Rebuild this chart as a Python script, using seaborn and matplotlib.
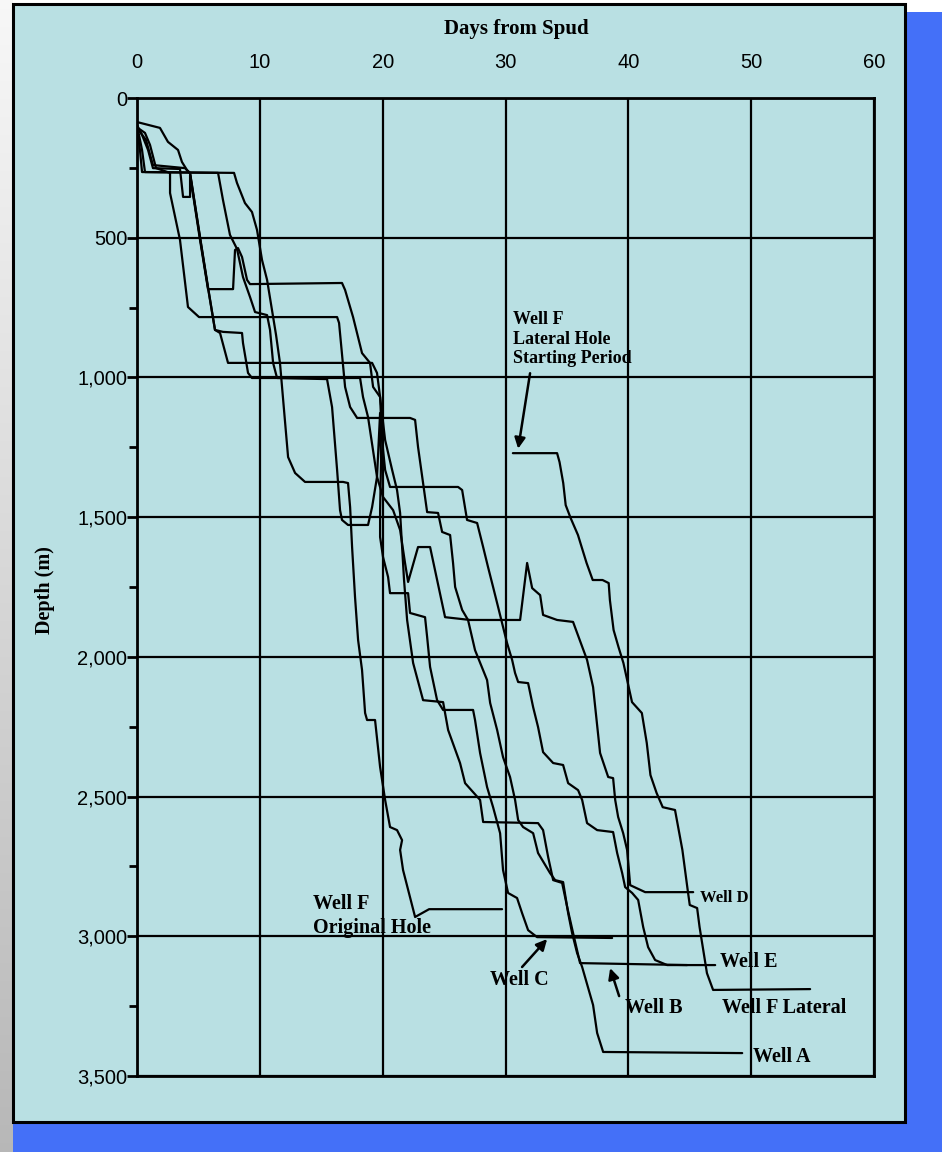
import numpy as np
import pandas as pd
import matplotlib
matplotlib.use("Agg")
import matplotlib.pyplot as plt
from matplotlib.patches import Rectangle
from matplotlib.ticker import FuncFormatter, MultipleLocator
import seaborn as sns

sns.set_style("white")
plt.rcParams["font.family"] = ["Liberation Sans", "DejaVu Sans"]
plt.rcParams["text.color"] = "black"
plt.rcParams["xtick.color"] = "black"
plt.rcParams["ytick.color"] = "black"

# ---------------- data (days from spud, depth m) ----------------
wells = ["Well A", "Well B", "Well C", "Well D", "Well E", "Well F Original", "Well F Lateral"]

well_a_days = [0, 0.65, 1.06, 1.55, 2.69, 2.69, 3.5, 4.15, 5.05, 16.29, 16.45, 16.94, 17.35, 17.92,
               22.23, 22.64, 22.88, 23.29, 23.62, 24.51, 24.84, 25.49, 25.73, 25.9, 26.47, 26.95,
               27.52, 28.5, 28.75, 29.32, 29.8, 30.37, 30.78, 31.03, 31.43, 32.25, 32.65, 33.63,
               34.04, 34.69, 35.1, 35.42, 35.83, 36.24, 37.13, 37.46, 37.95, 49.27]
well_a_depth = [105, 125, 168, 251, 268, 340, 508, 748, 784, 784, 805, 1034, 1106, 1145,
                1145, 1152, 1249, 1378, 1482, 1485, 1553, 1564, 1664, 1750, 1832, 1868,
                1976, 2083, 2165, 2262, 2359, 2430, 2512, 2584, 2609, 2631, 2702, 2774,
                2799, 2806, 2917, 2988, 3060, 3110, 3246, 3346, 3414, 3418]

well_b_days = [0, 0.73, 1.3, 3.91, 4.32, 5.13, 5.78, 6.35, 6.76, 7.41, 19.14, 19.54, 19.79, 20.2,
               20.77, 21.17, 21.42, 21.74, 21.99, 22.48, 23.29, 24.92, 25.33, 26.3, 26.71, 27.93,
               28.18, 32.65, 33.06, 33.47, 33.88, 34.61, 35.02, 35.5, 36.07, 44.79]
well_b_depth = [107, 150, 240, 251, 270, 500, 680, 830, 841, 948, 948, 984, 1070, 1224,
                1331, 1403, 1485, 1725, 1868, 2022, 2155, 2162, 2262, 2380, 2452, 2512,
                2591, 2595, 2620, 2716, 2799, 2809, 2895, 2988, 3096, 3103]

well_c_days = [0, 0.41, 0.65, 6.6, 7.0, 7.57, 8.14, 8.63, 9.2, 9.61, 10.59, 10.83, 11.08, 11.4,
               15.47, 15.88, 16.29, 16.53, 16.69, 17.18, 18.81, 19.14, 19.54, 19.79, 19.87, 19.79,
               19.79, 20.03, 20.44, 20.6, 22.07, 22.23, 23.45, 23.62, 23.86, 24.43, 24.92, 27.36,
               27.52, 27.93, 28.5, 28.99, 29.56, 29.8, 30.21, 30.94, 31.35, 31.84, 32.57, 38.68]
well_c_depth = [97, 186, 265, 268, 365, 490, 540, 641, 712, 766, 777, 830, 948, 1002,
                1006, 1106, 1331, 1475, 1510, 1528, 1528, 1464, 1356, 1127, 1296, 1475,
                1571, 1643, 1714, 1772, 1772, 1843, 1858, 1929, 2036, 2155, 2190, 2190,
                2226, 2344, 2466, 2538, 2631, 2763, 2845, 2863, 2917, 2978, 3003, 3006]

well_d_days = [0, 1.87, 2.52, 3.34, 3.66, 4.07, 4.32, 5.13, 5.78, 6.35, 7.0, 8.55, 8.63, 9.04,
               9.36, 18.16, 18.4, 18.81, 19.54, 20.03, 20.85, 21.42, 21.82, 22.07, 22.88, 23.86,
               25.08, 27.12, 31.19, 31.76, 32.17, 32.82, 33.06, 34.2, 35.5, 36.64, 37.13, 37.7,
               38.36, 38.76, 38.93, 39.17, 39.58, 39.9, 40.15, 41.37, 45.28]
well_d_depth = [86, 107, 157, 186, 229, 258, 268, 497, 676, 830, 837, 841, 877, 984,
                1002, 1002, 1070, 1142, 1356, 1428, 1475, 1546, 1664, 1732, 1607, 1607,
                1858, 1868, 1868, 1664, 1754, 1779, 1850, 1868, 1875, 2011, 2108, 2344,
                2430, 2434, 2512, 2573, 2631, 2691, 2817, 2842, 2842]

well_e_days = [0, 0.41, 0.9, 1.3, 3.5, 3.75, 4.32, 4.32, 5.13, 5.78, 7.82, 7.98, 8.22, 8.55,
               8.96, 9.2, 16.69, 16.94, 17.59, 18.32, 18.97, 19.22, 19.79, 19.95, 20.2, 20.6,
               26.14, 26.47, 26.87, 27.69, 28.18, 28.58, 28.99, 29.4, 29.8, 30.13, 30.54, 30.78,
               31.03, 31.84, 32.25, 32.65, 33.06, 33.88, 34.69, 35.1, 35.91, 36.24, 36.64, 37.46,
               38.76, 39.09, 39.5, 39.74, 40.31, 40.8, 41.21, 41.61, 42.18, 43.16, 47.07]
well_e_depth = [97, 132, 186, 251, 254, 354, 354, 276, 508, 684, 684, 544, 537, 569,
                651, 666, 662, 687, 784, 913, 948, 1034, 1070, 1224, 1331, 1392,
                1392, 1403, 1510, 1521, 1607, 1679, 1750, 1822, 1893, 1951, 2011, 2058,
                2090, 2094, 2180, 2251, 2341, 2380, 2387, 2452, 2477, 2512, 2595, 2620,
                2627, 2702, 2774, 2824, 2845, 2870, 2967, 3039, 3085, 3103, 3103]

well_f_orig_days = [0, 0.24, 0.41, 7.9, 8.14, 8.79, 9.36, 9.77, 10.18, 10.59, 10.99, 11.32, 11.64,
                    11.97, 12.3, 12.87, 13.68, 16.78, 17.18, 17.35, 17.51, 17.75, 18.0, 18.32, 18.57,
                    18.73, 19.38, 19.79, 20.2, 20.6, 21.17, 21.58, 21.42, 21.66, 22.64, 23.78, 29.72]
well_f_orig_depth = [104, 186, 265, 268, 304, 376, 408, 472, 580, 651, 759, 848, 948,
                     1117, 1285, 1342, 1374, 1374, 1378, 1464, 1607, 1786, 1940, 2047, 2201,
                     2226, 2226, 2394, 2512, 2609, 2620, 2656, 2691, 2763, 2931, 2903, 2903]

well_f_lat_days = [30.6, 34.2, 34.4, 34.7, 34.9, 35.3, 35.9, 36.2, 36.6, 37.1, 37.9, 38.4, 38.5,
                   38.8, 39.2, 39.6, 40.3, 41.1, 41.5, 41.8, 42.3, 42.8, 43.8, 44.4, 44.8, 45.0,
                   45.6, 45.8, 46.4, 46.9, 54.8]
well_f_lat_depth = [1271, 1271, 1303, 1378, 1457, 1503, 1564, 1607, 1664, 1725, 1725, 1736, 1797,
                    1904, 1965, 2022, 2162, 2201, 2308, 2423, 2487, 2538, 2548, 2691, 2824, 2888,
                    2899, 2967, 3132, 3192, 3189]

x_ticks = [0, 10, 20, 30, 40, 50, 60]
y_ticks = [0, 500, 1000, 1500, 2000, 2500, 3000, 3500]

series = [
    ("Well A", well_a_days, well_a_depth),
    ("Well B", well_b_days, well_b_depth),
    ("Well C", well_c_days, well_c_depth),
    ("Well D", well_d_days, well_d_depth),
    ("Well E", well_e_days, well_e_depth),
    ("Well F Original", well_f_orig_days, well_f_orig_depth),
    ("Well F Lateral", well_f_lat_days, well_f_lat_depth),
]
df = pd.concat([pd.DataFrame({"Well": n, "Days": d, "Depth": z}) for n, d, z in series],
               ignore_index=True)

# ---------------- figure / frame ----------------
W, H = 942, 1152
CYAN = "#B9E0E3"
BLUE = "#4470F8"
fig = plt.figure(figsize=(W / 100, H / 100), dpi=100, facecolor="white")

def fx(px):
    return px / W

def fy(py):
    return 1 - py / H

# left gray gradient strip
gax = fig.add_axes([0, 0, fx(13), 1])
grad = np.linspace(0.97, 0.72, 256).reshape(-1, 1)
gax.imshow(np.dstack([grad, grad, grad]), aspect="auto", extent=[0, 1, 0, 1])
gax.axis("off")
gax.set_zorder(-5)

fig.patches.append(Rectangle((fx(905), 0), fx(942 - 905), 1 - 12 / H,
                             transform=fig.transFigure, facecolor=BLUE, edgecolor="none", zorder=-3))
fig.patches.append(Rectangle((fx(13), 0), fx(942 - 13), 30 / H,
                             transform=fig.transFigure, facecolor=BLUE, edgecolor="none", zorder=-3))
fig.patches.append(Rectangle((fx(13), fy(1122)), fx(905 - 13), (1122 - 4) / H,
                             transform=fig.transFigure, facecolor=CYAN, edgecolor="black",
                             linewidth=2.2, zorder=-2))

ax = fig.add_axes([fx(137), fy(1076), fx(874 - 137), (1076 - 98) / H])
ax.set_zorder(5)
ax.set_facecolor(CYAN)

sns.lineplot(data=df, x="Days", y="Depth", hue="Well", hue_order=wells,
             palette=["black"] * len(wells), estimator=None, sort=False,
             legend=False, linewidth=1.6, ax=ax)

ax.set_xlim(0, 60)
ax.set_ylim(3500, 0)
ax.xaxis.tick_top()
ax.set_xticks(x_ticks)
ax.set_yticks(y_ticks)
ax.yaxis.set_major_formatter(FuncFormatter(lambda v, p: f"{int(v):,}"))
ax.yaxis.set_minor_locator(MultipleLocator(250))
ax.tick_params(axis="x", which="both", length=0, pad=19, labelsize=14.5, labelcolor="black")
ax.tick_params(axis="y", which="major", length=7, width=2, pad=0, labelsize=14.5,
               direction="out", color="black", labelcolor="black", left=True)
ax.tick_params(axis="y", which="minor", length=6, width=2, direction="out", color="black", left=True)
ax.grid(True, which="major", color="black", linewidth=1.6)
ax.set_axisbelow(True)
for s in ax.spines.values():
    s.set_color("black")
    s.set_linewidth(2)
ax.set_xlabel("")
ax.set_ylabel("")

serif = ["Liberation Serif", "DejaVu Serif"]
fig.text(fx(516), fy(29), "Days from Spud", ha="center", va="center",
         fontsize=15, fontweight="bold", family=serif, color="black")
fig.text(fx(45), fy(590), "Depth (m)", ha="center", va="center", rotation=90,
         fontsize=14.5, fontweight="bold", family=serif, color="black")

# ---------------- annotations ----------------
tk = dict(fontweight="bold", family=serif, color="black", va="center", ha="left")
arrow = dict(arrowstyle="-|>", color="black", lw=1.8, mutation_scale=16, shrinkA=0, shrinkB=0)

ax.text(30.6, 863, "Well F\nLateral Hole\nStarting Period", fontsize=13, linespacing=1.2, **tk)
ax.annotate("", xy=(31.03, 1255), xytext=(32.0, 985), arrowprops=arrow)

ax.text(14.33, 2928, "Well F\nOriginal Hole", fontsize=14.5, linespacing=1.25, **tk)

ax.text(28.75, 3157, "Well C", fontsize=14.5, **tk)
ax.annotate("", xy=(33.39, 3010), xytext=(31.35, 3110), arrowprops=arrow)

ax.text(39.74, 3257, "Well B", fontsize=14.5, **tk)
ax.annotate("", xy=(38.52, 3114), xytext=(39.25, 3214), arrowprops=arrow)

ax.text(45.85, 2863, "Well D", fontsize=12, **tk)
ax.text(47.48, 3092, "Well E", fontsize=14.5, **tk)
ax.text(47.64, 3257, "Well F Lateral", fontsize=14.5, **tk)
ax.text(50.16, 3432, "Well A", fontsize=14.5, **tk)

fig.savefig("out.png", dpi=100, facecolor="white")
